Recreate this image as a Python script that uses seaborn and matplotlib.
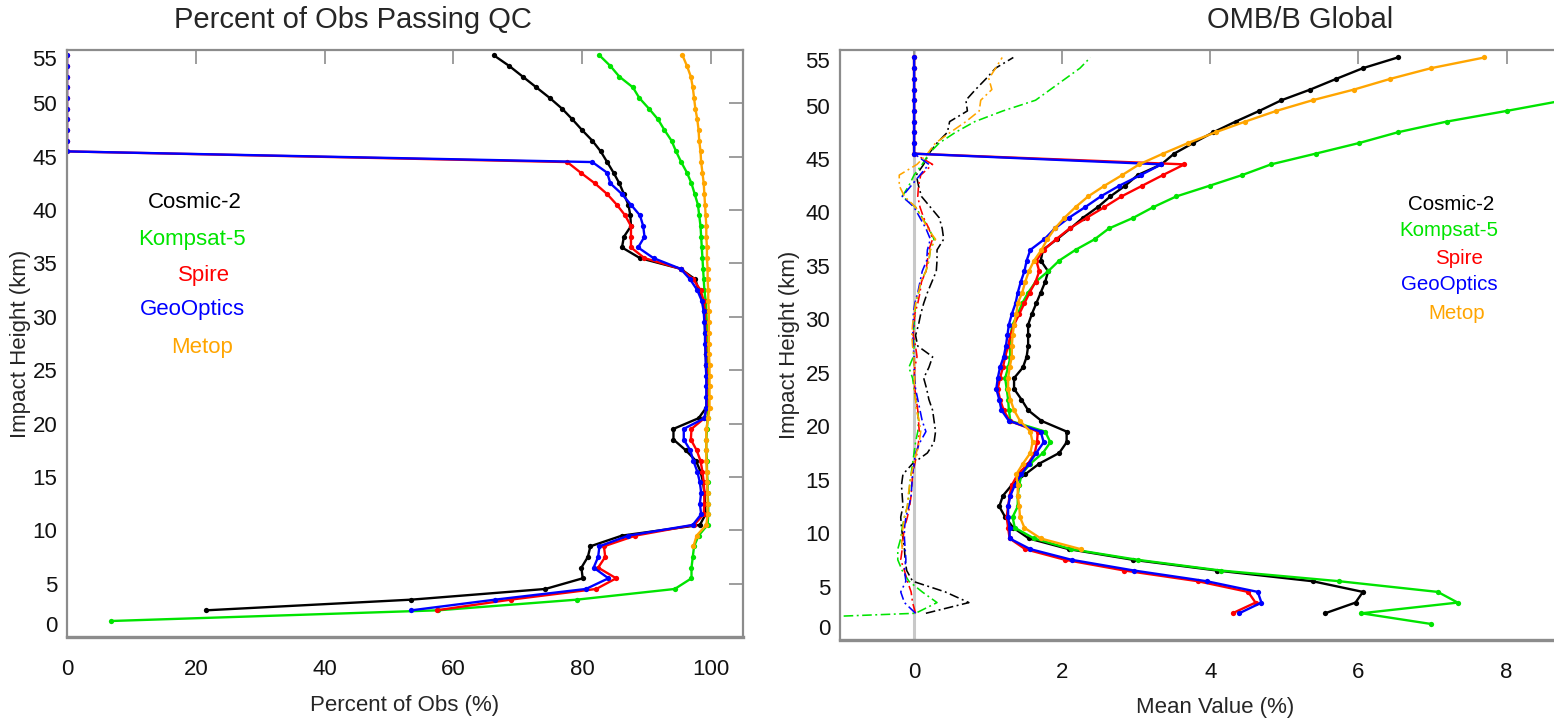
import numpy as np
import pandas as pd
import matplotlib
matplotlib.use("Agg")
import matplotlib.pyplot as plt
import seaborn as sns

nan = np.nan

# Impact heights (km), bottom to top
heights = [1.5, 2.5, 3.5, 4.5, 5.5, 6.5, 7.5, 8.5, 9.5, 10.5,
           11.5, 12.5, 13.5, 14.5, 15.5, 16.5, 17.5, 18.5, 19.5, 20.5,
           21.5, 22.5, 23.5, 24.5, 25.5, 26.5, 27.5, 28.5, 29.5, 30.5,
           31.5, 32.5, 33.5, 34.5, 35.5, 36.5, 37.5, 38.5, 39.5, 40.5,
           41.5, 42.5, 43.5, 44.5, 45.5, 46.5, 47.5, 48.5, 49.5, 50.5,
           51.5, 52.5, 53.5, 54.5]

missions = ["Cosmic-2", "Kompsat-5", "Spire", "GeoOptics", "Metop"]
colors = ["#000000", "#00e400", "#ff0000", "#0000ff", "#ffa500"]

# Percent of observations passing QC
qc_cosmic2 = [nan, 21.6, 53.5, 74.3, 80.1, 79.9, 80.9, 81.3, 86.2, 98.3,
              99.2, 99.1, 99.0, 98.8, 98.4, 97.7, 96.1, 94.2, 94.2, 98.1,
              99.3, 99.4, 99.4, 99.4, 99.3, 99.2, 99.2, 99.1, 99.1, 99.0,
              98.8, 98.1, 97.6, 95.3, 89.0, 86.2, 86.5, 87.6, 87.5, 87.2,
              86.5, 85.8, 84.9, 83.9, 82.9, 81.6, 80.0, 78.5, 76.9, 75.0,
              72.9, 70.8, 68.7, 66.3]
qc_kompsat5 = [6.9, 57.6, 79.2, 94.4, 97.0, 97.0, 97.2, 97.4, 98.1, 99.5,
               99.6, 99.6, 99.5, 99.5, 99.4, 99.4, 99.3, 99.3, 99.4, 99.5,
               99.6, 99.7, 99.7, 99.7, 99.6, 99.6, 99.5, 99.5, 99.4, 99.3,
               99.2, 99.0, 98.9, 98.8, 98.7, 98.6, 98.5, 98.4, 98.2, 98.0,
               97.5, 97.0, 96.3, 95.4, 94.6, 93.9, 92.8, 91.8, 90.4, 88.9,
               87.9, 85.8, 84.4, 82.7]
qc_spire = [nan, 57.4, 68.9, 82.2, 85.3, 82.5, 83.6, 83.4, 88.3, 97.4,
            98.9, 99.0, 99.0, 98.9, 98.7, 98.4, 97.8, 96.9, 97.0, 99.0,
            99.4, 99.4, 99.4, 99.4, 99.3, 99.3, 99.2, 99.2, 99.1, 99.1,
            98.9, 98.4, 97.3, 95.3, 89.7, 87.6, 87.6, 87.6, 86.7, 85.4,
            83.9, 82.0, 79.8, 77.7, 0.0, 0.0, 0.0, 0.0, 0.0, 0.0,
            0.0, 0.0, 0.0, 0.0]
qc_geooptics = [nan, 53.5, 66.5, 80.6, 84.1, 81.8, 82.5, 82.7, 87.2, 97.2,
                98.5, 98.3, 98.5, 98.3, 97.9, 97.3, 96.8, 95.8, 95.8, 99.0,
                99.3, 99.3, 99.3, 99.3, 99.2, 99.2, 99.1, 99.1, 99.0, 98.9,
                98.6, 97.9, 96.8, 95.3, 91.1, 88.7, 89.7, 89.5, 89.0, 87.6,
                86.2, 84.4, 83.9, 81.6, 0.0, 0.0, 0.0, 0.0, 0.0, 0.0,
                0.0, 0.0, 0.0, 0.0]
qc_metop = [nan, nan, nan, nan, nan, nan, nan, 97.3, 97.8, 99.3,
            99.5, 99.5, 99.5, 99.4, 99.4, 99.3, 99.3, 99.3, 99.3, 99.6,
            99.8, 99.8, 99.8, 99.8, 99.8, 99.7, 99.7, 99.7, 99.7, 99.7,
            99.6, 99.6, 99.5, 99.5, 99.4, 99.4, 99.3, 99.3, 99.2, 99.1,
            99.0, 98.9, 98.7, 98.5, 98.4, 98.2, 98.1, 97.9, 97.6, 97.4,
            97.2, 96.9, 96.3, 95.6]

# Global OMB/B (%): solid profiles
omb_cosmic2 = [nan, 5.55, 5.96, 6.06, 5.38, 4.09, 2.96, 2.09, 1.55, 1.34,
               1.23, 1.15, 1.20, 1.32, 1.50, 1.69, 1.96, 2.06, 2.06, 1.72,
               1.54, 1.45, 1.35, 1.35, 1.47, 1.52, 1.54, 1.54, 1.54, 1.59,
               1.65, 1.71, 1.77, 1.81, 1.71, 1.74, 1.93, 2.11, 2.28, 2.48,
               2.65, 2.85, 3.02, 3.34, 3.51, 3.77, 4.04, 4.34, 4.66, 4.96,
               5.35, 5.70, 6.06, 6.53]
omb_kompsat5 = [6.98, 6.04, 7.34, 7.07, 5.74, 4.14, 3.02, 2.12, 1.62, 1.36,
                1.33, 1.40, 1.40, 1.42, 1.45, 1.57, 1.74, 1.84, 1.77, 1.30,
                1.28, 1.27, 1.25, 1.23, 1.27, 1.30, 1.29, 1.30, 1.33, 1.40,
                1.46, 1.54, 1.64, 1.81, 1.96, 2.18, 2.44, 2.63, 2.96, 3.23,
                3.54, 3.99, 4.43, 4.82, 5.42, 6.01, 6.53, 7.19, 8.00, 8.78,
                nan, nan, nan, nan]
omb_spire = [nan, 4.30, 4.61, 4.51, 3.83, 2.84, 2.04, 1.50, 1.29, 1.27,
             1.25, 1.27, 1.29, 1.32, 1.40, 1.54, 1.63, 1.66, 1.67, 1.29,
             1.21, 1.16, 1.13, 1.16, 1.20, 1.23, 1.27, 1.30, 1.35, 1.42,
             1.49, 1.56, 1.64, 1.69, 1.65, 1.75, 1.92, 2.10, 2.33, 2.57,
             2.80, 3.08, 3.36, 3.65, 0.0, 0.0, 0.0, 0.0, 0.0, 0.0,
             0.0, 0.0, 0.0, 0.0]
omb_geooptics = [nan, 4.39, 4.69, 4.64, 3.95, 2.97, 2.13, 1.57, 1.29, 1.29,
                 1.27, 1.27, 1.30, 1.36, 1.45, 1.55, 1.65, 1.75, 1.71, 1.28,
                 1.18, 1.15, 1.11, 1.13, 1.16, 1.21, 1.24, 1.26, 1.28, 1.32,
                 1.37, 1.40, 1.44, 1.49, 1.52, 1.57, 1.76, 1.90, 2.09, 2.31,
                 2.52, 2.77, 3.06, 3.34, 0.0, 0.0, 0.0, 0.0, 0.0, 0.0,
                 0.0, 0.0, 0.0, 0.0]
omb_metop = [nan, nan, nan, nan, nan, nan, nan, 2.25, 1.71, 1.49,
             1.43, 1.42, 1.40, 1.40, 1.38, 1.47, 1.57, 1.60, 1.57, 1.43,
             1.35, 1.30, 1.27, 1.27, 1.29, 1.32, 1.32, 1.33, 1.35, 1.38,
             1.40, 1.46, 1.50, 1.55, 1.62, 1.72, 1.80, 1.90, 2.03, 2.18,
             2.35, 2.57, 2.81, 3.04, 3.36, 3.70, 4.07, 4.47, 4.89, 5.38,
             5.94, 6.43, 6.98, 7.70]

# Global OMB/B (%): dash-dot profiles
mean_cosmic2 = [nan, 0.16, 0.74, 0.42, -0.02, -0.10, -0.12, -0.13, -0.15, -0.17,
                -0.18, -0.15, -0.16, -0.17, -0.15, -0.02, 0.18, 0.27, 0.29, 0.27,
                0.25, 0.20, 0.17, 0.13, 0.20, 0.25, 0.05, 0.02, 0.06, 0.09,
                0.13, 0.18, 0.24, 0.30, 0.31, 0.31, 0.40, 0.38, 0.34, 0.22,
                0.10, 0.06, 0.03, 0.13, 0.20, 0.31, 0.45, 0.48, 0.72, 0.70,
                0.83, 0.97, 1.10, 1.34]
mean_kompsat5 = [-3.7, 0.02, 0.31, 0.11, -0.07, -0.16, -0.22, -0.22, -0.18, -0.16,
                 -0.13, -0.09, -0.07, -0.06, -0.04, -0.02, 0.00, 0.02, 0.05, 0.06,
                 0.05, 0.02, 0.00, -0.02, -0.07, -0.01, 0.00, -0.01, 0.00, 0.01,
                 0.02, 0.06, 0.09, 0.16, 0.20, 0.22, 0.27, 0.20, 0.11, 0.02,
                 -0.16, -0.07, 0.00, 0.11, 0.20, 0.34, 0.56, 0.82, 1.20, 1.64,
                 1.84, 2.04, 2.24, 2.38]
mean_spire = [nan, 0.02, -0.02, -0.04, -0.09, -0.13, -0.18, -0.16, -0.15, -0.13,
              -0.09, -0.06, -0.04, -0.03, -0.02, 0.01, 0.04, 0.06, 0.07, 0.06,
              0.05, 0.03, 0.01, 0.00, 0.01, 0.04, 0.02, -0.01, 0.00, 0.01,
              0.05, 0.08, 0.10, 0.16, 0.18, 0.20, 0.25, 0.20, 0.13, 0.08,
              0.05, 0.06, 0.09, 0.25, 0.0, 0.0, 0.0, 0.0, 0.0, 0.0,
              0.0, 0.0, 0.0, 0.0]
mean_geooptics = [nan, 0.02, -0.13, -0.18, -0.11, -0.13, -0.11, -0.12, -0.13, -0.13,
                  -0.11, -0.07, -0.04, -0.03, -0.02, 0.00, 0.02, 0.08, 0.16, 0.11,
                  0.08, 0.05, 0.02, 0.01, 0.00, 0.00, -0.01, -0.02, -0.01, -0.01,
                  0.01, 0.05, 0.08, 0.11, 0.17, 0.18, 0.22, 0.16, 0.08, 0.00,
                  -0.16, -0.04, 0.08, 0.20, 0.0, 0.0, 0.0, 0.0, 0.0, 0.0,
                  0.0, 0.0, 0.0, 0.0]
mean_metop = [nan, nan, nan, nan, nan, nan, nan, -0.16, -0.17, -0.15,
              -0.13, -0.09, -0.08, -0.06, -0.04, 0.00, 0.03, 0.07, 0.09, 0.07,
              0.03, 0.02, 0.00, 0.01, 0.00, 0.00, -0.02, -0.03, -0.02, 0.00,
              0.02, 0.06, 0.09, 0.16, 0.20, 0.22, 0.29, 0.18, 0.11, 0.02,
              -0.13, -0.20, -0.20, 0.04, 0.18, 0.29, 0.49, 0.70, 0.88, 0.90,
              1.05, 1.01, 1.10, 1.19]

qc_series = [qc_cosmic2, qc_kompsat5, qc_spire, qc_geooptics, qc_metop]
omb_series = [omb_cosmic2, omb_kompsat5, omb_spire, omb_geooptics, omb_metop]
mean_series = [mean_cosmic2, mean_kompsat5, mean_spire, mean_geooptics, mean_metop]

sns.set_style("white")
plt.rcParams["font.family"] = ["Liberation Sans", "DejaVu Sans"]

SPINE = "#8c8c8c"
W, H = 1554, 718


def profile(ax, values, color, dashed=False):
    df = pd.DataFrame({"value": values, "height": heights}).dropna()
    if dashed:
        sns.lineplot(data=df, x="value", y="height", sort=False, estimator=None,
                     color=color, lw=1.15, linestyle=(0, (6, 2.2, 1.2, 2.2)), ax=ax)
    else:
        sns.lineplot(data=df, x="value", y="height", sort=False, estimator=None,
                     color=color, lw=1.7, marker="o", markersize=3.8,
                     mec=color, mew=0, ax=ax)


def style_axis(ax, right_ticks):
    for side, sp in ax.spines.items():
        sp.set_color(SPINE)
        sp.set_linewidth(1.6)
    ax.spines["bottom"].set_linewidth(2.4)
    ax.tick_params(axis="both", which="both", direction="in", length=10,
                   width=1.2, color=SPINE, top=True, right=right_ticks,
                   labelsize=16, labelcolor="#111111")
    ax.tick_params(axis="x", pad=16)
    ax.tick_params(axis="y", pad=7)
    ax.set_yticks(range(0, 56, 5))
    # keep the end labels inside the frame
    labels = ax.get_yticklabels()
    labels[0].set_verticalalignment("bottom")
    labels[-1].set_verticalalignment("top")


fig = plt.figure(figsize=(W / 100, H / 100), dpi=100)
fig.patch.set_facecolor("white")

# Left panel: QC pass rates
ax1 = fig.add_axes([67 / W, (H - 637) / H, 676 / W, 587 / H])
for vals, col in zip(qc_series, colors):
    profile(ax1, vals, col)
ax1.set_xlim(0, 105)
ax1.set_ylim(0, 55)
ax1.set_xticks([0, 20, 40, 60, 80, 100])
style_axis(ax1, True)
ax1.set_xlabel("Percent of Obs (%)", fontsize=16)
ax1.set_ylabel("Impact Height (km)", fontsize=16)
ax1.xaxis.set_label_coords(0.5, -0.098)
ax1.yaxis.set_label_coords(-0.053, 0.5)

# Right panel: OMB/B statistics
ax2 = fig.add_axes([840 / W, (H - 640) / H, 714 / W, 590 / H])
ax2.axvline(0, color="#c8c8c8", lw=2.2, zorder=0)
for vals, col in zip(mean_series, colors):
    profile(ax2, vals, col, dashed=True)
for vals, col in zip(omb_series, colors):
    profile(ax2, vals, col)
ax2.set_xlim(-1, 8.64)
ax2.set_ylim(0, 55.2)
ax2.set_xticks([0, 2, 4, 6, 8])
style_axis(ax2, False)
ax2.spines["right"].set_visible(False)
ax2.set_xlabel("Mean Value (%)", fontsize=16)
ax2.set_ylabel("Impact Height (km)", fontsize=16)
ax2.xaxis.set_label_coords(0.525, -0.096)
ax2.yaxis.set_label_coords(-0.056, 0.5)

# Titles
fig.text(353 / W, 1 - 20 / H, "Percent of Obs Passing QC", fontsize=21,
         ha="center", va="center")
fig.text(1300 / W, 1 - 20 / H, "OMB/B Global", fontsize=21,
         ha="center", va="center")

# Mission labels
left_pos = [(195, 203), (192, 239), (204, 275), (192, 310), (202, 347)]
right_pos = [(1451, 204), (1449, 231), (1459, 258), (1449, 285), (1457, 313)]
for name, col, (lx, ly), (rx, ry) in zip(missions, colors, left_pos, right_pos):
    fig.text(lx / W, 1 - ly / H, name, color=col, fontsize=16,
             ha="center", va="center")
    fig.text(rx / W, 1 - ry / H, name, color=col, fontsize=14.8,
             ha="center", va="center")

fig.savefig("out.png", dpi=100, facecolor="white")
